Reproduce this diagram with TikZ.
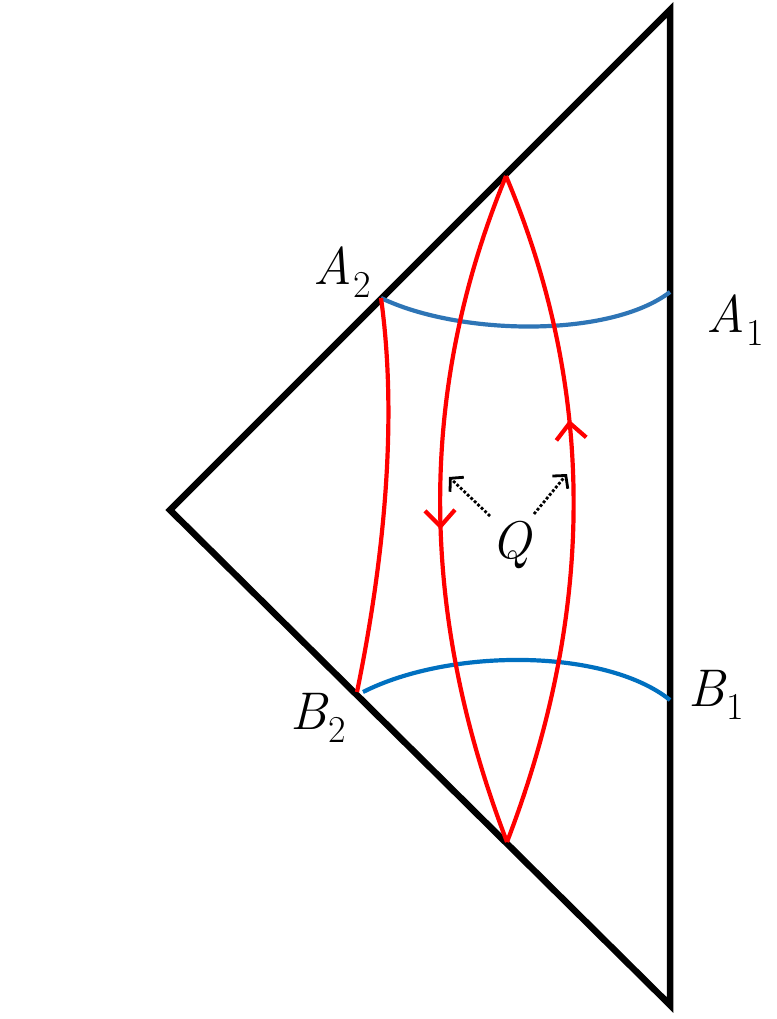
\documentclass[tikz,border=0pt]{standalone}
\usepackage{fontspec}
\usetikzlibrary{arrows.meta,decorations.markings}
\definecolor{bluetop}{RGB}{46,117,182}
\definecolor{bluebot}{RGB}{0,112,192}
\definecolor{redline}{RGB}{255,0,0}
\newcommand{\lab}[2]{\itshape #1\kern1pt\raisebox{-0.26em}{\fontsize{38}{38}\selectfont\upshape #2}}
\tikzset{
  edge/.style={line width=6.5pt,black,line join=miter},
  redc/.style={line width=4.2pt,redline},
  bluec/.style={line width=4.2pt},
  lbl/.style={font=\fontsize{53}{56}\selectfont,inner sep=0pt},
  dotarrow/.style={dotted,line width=2.8pt,-{Straight Barb[length=9pt,width=20pt,line width=2.8pt]}},
  markarrow/.style={postaction={decorate},decoration={markings,mark=at position #1 with {\arrow{Straight Barb[length=16pt,width=30pt,line width=4.2pt]}}}}
}
\begin{document}
\begin{tikzpicture}[x=1pt,y=-1pt]
\useasboundingbox (0,0) rectangle (776,1019);
% triangle
\coordinate (T) at (670,10);
\coordinate (L) at (170,510);
\coordinate (Bt) at (670,1005);
\draw[edge] (T) -- (L) -- (Bt) -- cycle;
% points
\coordinate (A2) at (381,298);
\coordinate (B2) at (357,692);
\coordinate (A1) at (670,292);
\coordinate (B1) at (670,700);
\coordinate (B2b) at (363,692);
\coordinate (Vt) at (506,176);
\coordinate (Vb) at (507,842);
% blue curves
\draw[bluec,bluetop] (A2) .. controls (460,336) and (610,338) .. (A1);
\draw[bluec,bluebot] (B2b) .. controls (450,648) and (605,648) .. (B1);
% red curves
\draw[redc] (A2) .. controls (398,420) and (384,560) .. (B2);
\draw[redc,markarrow=0.53] (Vt) .. controls (418,390) and (418,610) .. (Vb);
\draw[redc,markarrow=0.63] (Vb) .. controls (596,610) and (596,390) .. (Vt);
% labels
\node[lbl] (lA2) at (342,272) {\lab{A}{2}};
\node[lbl] (lA1) at (735,320) {\lab{A}{1}};
\node[lbl] (lB1) at (716,695) {\lab{B}{1}};
\node[lbl] (lB2) at (318,718) {\lab{B}{2}};
\node[lbl] (Q) at (511,545) {\itshape Q};
\coordinate (q1) at (449,477);
\coordinate (q2) at (567,474);
\coordinate (q1s) at (490,516);
\coordinate (q2s) at (534,514);
\draw[dotarrow] (q1s) -- (q1);
\draw[dotarrow] (q2s) -- (q2);
\end{tikzpicture}
\end{document}
